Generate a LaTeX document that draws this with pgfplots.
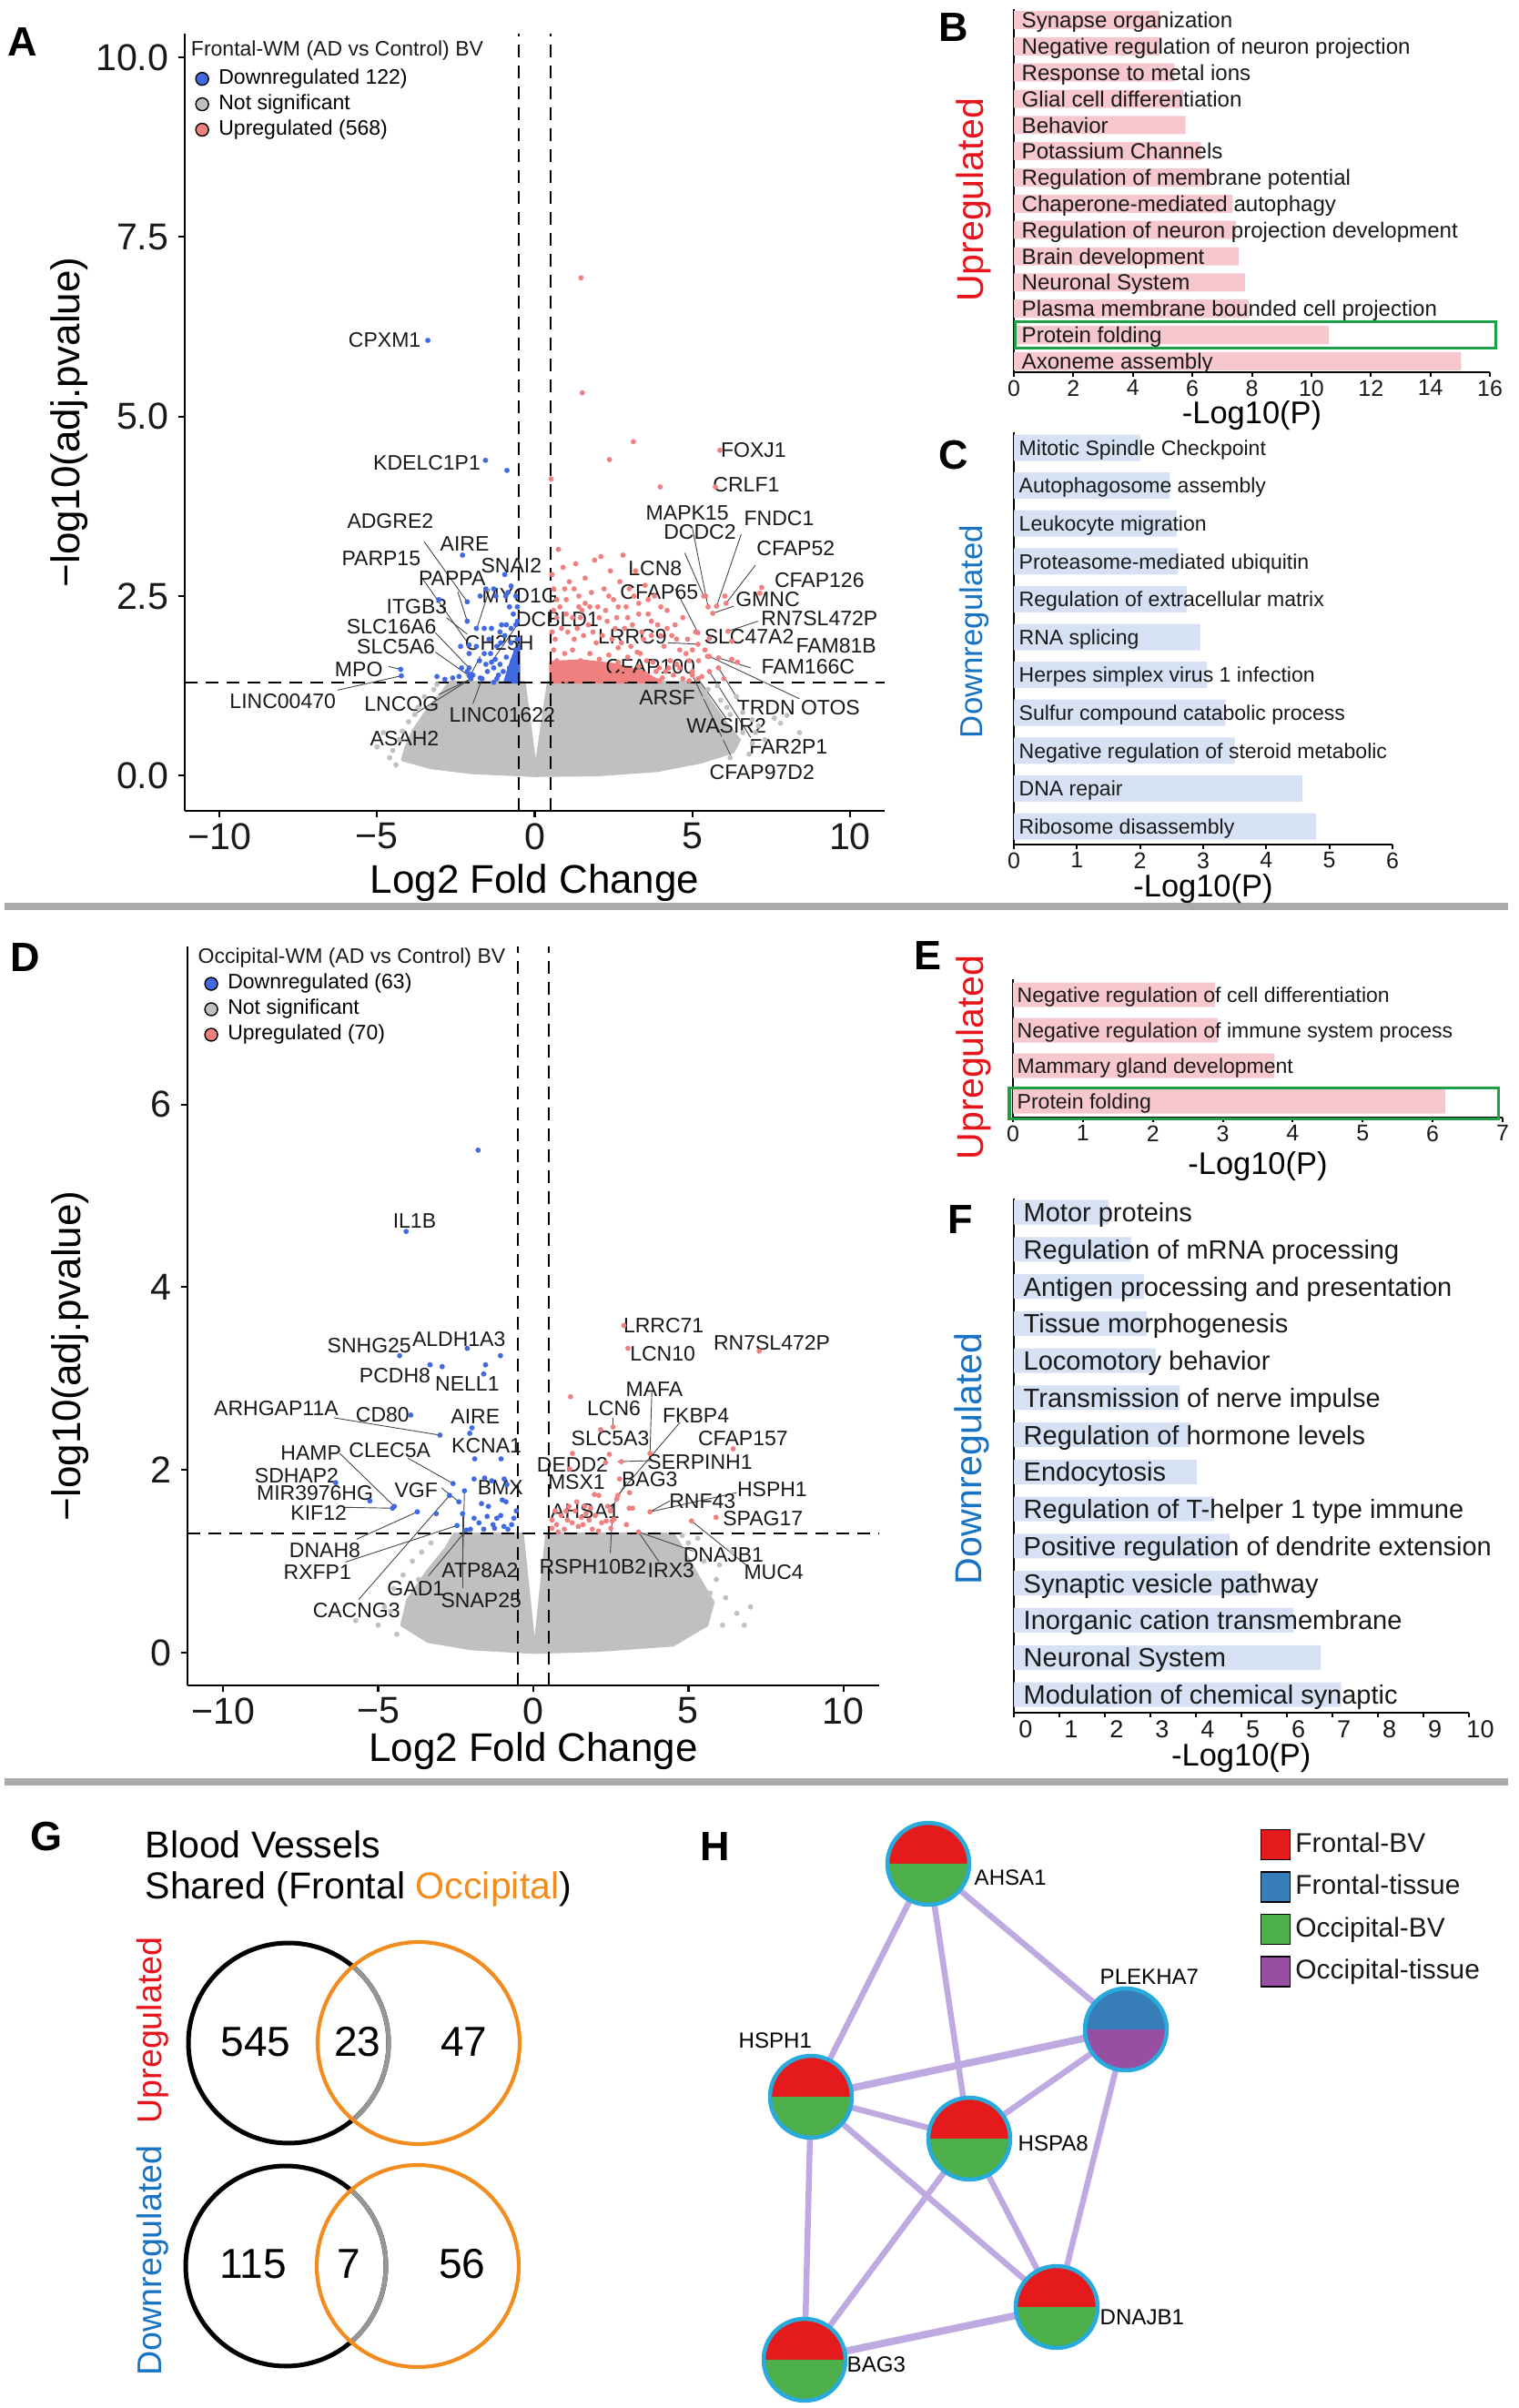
\documentclass[border=0pt]{standalone}
\usepackage{fontspec}
\setmainfont{Liberation Sans}
\usepackage{pgfplots}
\pgfplotsset{compat=1.18}
\usetikzlibrary{plotmarks}

\definecolor{ptblue}{RGB}{65,105,225}
\definecolor{ptred}{RGB}{240,128,128}
\definecolor{ptgrey}{RGB}{192,192,192}
\definecolor{barpink}{RGB}{247,199,206}
\definecolor{barblue}{RGB}{214,225,243}
\definecolor{uptxt}{RGB}{232,20,28}
\definecolor{dntxt}{RGB}{25,115,195}
\definecolor{boxgreen}{RGB}{30,160,70}
\definecolor{sepgrey}{RGB}{170,170,170}
\definecolor{vorange}{RGB}{242,140,30}
\definecolor{vgrey}{RGB}{150,150,150}
\definecolor{nred}{RGB}{228,26,28}
\definecolor{ngreen}{RGB}{77,175,74}
\definecolor{nblue}{RGB}{55,126,184}
\definecolor{npurple}{RGB}{152,78,163}
\definecolor{ncyan}{RGB}{40,170,220}
\definecolor{edgecol}{RGB}{190,170,225}
\definecolor{txtdark}{RGB}{25,25,25}
\definecolor{leadcol}{RGB}{70,70,70}

\newcommand{\fGene}{\fontsize{6.55pt}{7.5pt}\selectfont}
\newcommand{\fLeg}{\fontsize{6.55pt}{7.5pt}\selectfont}
\newcommand{\fTick}{\fontsize{11.7pt}{13pt}\selectfont}
\newcommand{\fTitle}{\fontsize{12.5pt}{14pt}\selectfont}
\newcommand{\fPanel}{\fontsize{12.8pt}{14pt}\selectfont\bfseries}
\newcommand{\fBarB}{\fontsize{6.85pt}{8pt}\selectfont}
\newcommand{\fBarC}{\fontsize{6.55pt}{7.5pt}\selectfont}
\newcommand{\fBarF}{\fontsize{8.25pt}{9.5pt}\selectfont}
\newcommand{\fBarTick}{\fontsize{7.1pt}{8pt}\selectfont}
\newcommand{\fBarTickF}{\fontsize{7.7pt}{8.5pt}\selectfont}
\newcommand{\fBarTitle}{\fontsize{9.8pt}{11pt}\selectfont}
\newcommand{\fSide}{\fontsize{11.7pt}{13pt}\selectfont}
\newcommand{\fSideC}{\fontsize{9.9pt}{11pt}\selectfont}
\newcommand{\fSideG}{\fontsize{10.7pt}{12pt}\selectfont}
\newcommand{\fVenn}{\fontsize{11.7pt}{13pt}\selectfont}
\newcommand{\fVennNum}{\fontsize{13.1pt}{15pt}\selectfont}
\newcommand{\fNet}{\fontsize{6.85pt}{8pt}\selectfont}
\newcommand{\fNetLeg}{\fontsize{8.5pt}{9.5pt}\selectfont}

\pgfdeclareplotmark{rg}{%
  \pgfpathmoveto{\pgfqpoint{\pgfplotmarksize}{0pt}}%
  \pgfpatharc{0}{180}{\pgfplotmarksize}%
  \pgfpathclose
  \pgfsetfillcolor{nred}\pgfusepath{fill}%
  \pgfpathmoveto{\pgfqpoint{-\pgfplotmarksize}{0pt}}%
  \pgfpatharc{180}{360}{\pgfplotmarksize}%
  \pgfpathclose
  \pgfsetfillcolor{ngreen}\pgfusepath{fill}%
  \pgfpathcircle{\pgfpointorigin}{\pgfplotmarksize}%
  \pgfsetstrokecolor{ncyan}\pgfusepath{stroke}%
}
\pgfdeclareplotmark{bp}{%
  \pgfpathmoveto{\pgfqpoint{\pgfplotmarksize}{0pt}}%
  \pgfpatharc{0}{180}{\pgfplotmarksize}%
  \pgfpathclose
  \pgfsetfillcolor{nblue}\pgfusepath{fill}%
  \pgfpathmoveto{\pgfqpoint{-\pgfplotmarksize}{0pt}}%
  \pgfpatharc{180}{360}{\pgfplotmarksize}%
  \pgfpathclose
  \pgfsetfillcolor{npurple}\pgfusepath{fill}%
  \pgfpathcircle{\pgfpointorigin}{\pgfplotmarksize}%
  \pgfsetstrokecolor{ncyan}\pgfusepath{stroke}%
}
\pgfdeclareplotmark{varc}{%
  \pgfpathmoveto{\pgfqpointpolar{-49}{\pgfplotmarksize}}%
  \pgfpatharc{-49}{49}{\pgfplotmarksize}%
  \pgfusepath{stroke}%
}

\pgfplotsset{
  volc/.style={
    scale only axis, clip=false,
    axis x line*=bottom, axis y line*=left,
    axis line style={line width=0.22mm, black},
    tick align=outside, major tick length=0.7mm,
    tick style={line width=0.22mm, black},
    xtick={-10,-5,0,5,10}, xticklabels={−10,−5,0,5,10},
    tick label style={font=\fTick, text=txtdark},
    /pgf/number format/assume math mode=true,
    xticklabel style={inner sep=0pt, yshift=-0.6mm},
    yticklabel style={inner sep=0pt, xshift=-1.0mm},
    legend image code/.code={\fill[##1] (0.7mm,0mm) circle (0.7mm);},
    legend cell align=left,
    legend style={draw=none, fill=none, anchor=north west, inner sep=0pt, outer sep=0pt, row sep=0.6mm,
       nodes={inner sep=0pt, outer sep=0pt, font=\fLeg},
       /tikz/every odd column/.append style={column sep=1.05mm}},
  },
  hb/.style={
    scale only axis, clip=false, xbar, xmin=0,
    axis x line*=bottom, axis y line*=left,
    axis line style={line width=0.28mm, black},
    ytick=\empty, tick align=outside, major tick length=0.5mm,
    tick style={line width=0.2mm, black},
    /pgf/number format/assume math mode=true,
    tick label style={font=\fBarTick, text=txtdark},
    xticklabel style={inner sep=0pt, yshift=-0.3mm},
  },
  vpt/.style={color=#1, only marks, mark=*, mark size=0.28mm, forget plot,
    mark options={draw=#1, fill=#1, line width=0.01mm}},
  vdash/.style={black, line width=0.22mm, dash pattern=on 1.4mm off 0.9mm, forget plot},
}
\tikzset{gl/.style={font=\fGene, inner sep=0pt, text=txtdark},
         ll/.style={draw=leadcol, line width=0.09mm},
         pl/.style={font=\fPanel, inner sep=0pt}}
\newcommand{\gl}[3]{\node[gl] at (axis cs:#1,#2) {#3};}
\newcommand{\ld}[4]{\draw[ll] (axis cs:#1,#2) -- (axis cs:#3,#4);}

\begin{document}
\begin{tikzpicture}
% separators
\fill[sepgrey] (0.5mm,164.6mm) rectangle (165.7mm,165.4mm);
\fill[sepgrey] (0.5mm,68.4mm) rectangle (165.7mm,69.2mm);
% panel letters
\node[pl] at (2.5mm,260.0mm) {A};
\node[pl] at (104.8mm,261.6mm) {B};
\node[pl] at (104.8mm,214.6mm) {C};
\node[pl] at (2.8mm,159.4mm) {D};
\node[pl] at (101.9mm,159.6mm) {E};
\node[pl] at (105.5mm,130.6mm) {F};
\node[pl] at (5.1mm,62.8mm) {G};
\node[pl] at (78.6mm,61.7mm) {H};
% side labels
\node[rotate=90, font=\fSide, text=uptxt, inner sep=0pt] at (107.0mm,242.6mm) {Upregulated};
\node[rotate=90, font=\fSideC, text=dntxt, inner sep=0pt] at (107.0mm,195.2mm) {Downregulated};
\node[rotate=90, font=\fSide, text=uptxt, inner sep=0pt] at (107.0mm,148.4mm) {Upregulated};
\node[rotate=90, font=\fSide, text=dntxt, inner sep=0pt] at (106.8mm,104.3mm) {Downregulated};

%================ A =================
\begin{axis}[volc, at={(20.3mm,175.5mm)}, anchor=south west, width=76.9mm, height=85.4mm,
  xmin=-11.1, xmax=11.1,
  ymin=-0.49, ymax=10.33, ytick={0,2.5,5,7.5,10}, yticklabels={0.0,2.5,5.0,7.5,10.0},
  xlabel={Log2 Fold Change}, ylabel={−log10(adj.pvalue)},
  every axis x label/.style={at={([yshift=-7.9mm]axis description cs:0.5,0)}, anchor=center, font=\fTitle},
  every axis y label/.style={at={([xshift=-12.7mm]axis description cs:0,0.5)}, anchor=center, rotate=90, font=\fTitle},
  legend style={at={(axis cs:-10.77,9.84)}}]
\addplot[fill=ptgrey, draw=ptgrey, line width=0.3mm, line join=round, forget plot] coordinates {
(-2.7,1.301) (-2.95,1.15) (-3.4,0.92) (-3.85,0.63) (-4.1,0.38) (-4.2,0.22) (-3.3,0.11) (-2.0,0.04) (0,0)
(2.0,0.01) (3.9,0.07) (5.3,0.19) (6.3,0.33) (6.5,0.5) (6.0,0.77) (5.6,1.02) (5.2,1.301) (0.43,1.301) (0.03,0.1) (-0.33,1.301)} -- cycle;
\addplot[vpt=ptgrey] coordinates {
(-4.5,0.35) (-4.3,0.5) (-4.0,0.75) (-3.7,0.95) (-3.5,1.1) (-3.2,1.2) (-4.6,0.25) (-4.4,0.15) (-5.0,0.4) (-4.8,0.6)
(-3.1,1.27) (-4.2,0.62) (-3.8,0.85) (5.5,1.2) (5.9,1.05) (6.2,0.85) (6.6,0.6) (6.9,0.45) (7.1,0.69) (7.6,0.8)
(7.8,0.73) (8.0,0.84) (8.4,0.6) (6.6,0.88) (6.9,0.78) (6.0,0.53) (6.8,0.3) (6.4,1.1) (5.8,1.25) (7.3,0.5)
(6.2,0.25) (5.4,1.1) (6.1,0.95) (7.0,0.6) (5.0,1.25)};
\addplot[fill=ptblue, draw=ptblue, line width=0.3mm, line join=round, forget plot] coordinates {
(-0.95,1.301) (-0.5,1.301) (-0.5,1.85) (-0.65,1.7) (-0.85,1.45)} -- cycle;
\addplot[vpt=ptblue] coordinates {
(-3.39,6.06) (-1.56,4.39) (-0.88,4.25) (-2.29,3.07)
(-0.95,2.8) (-0.75,2.64) (-1.3,2.6) (-0.85,2.55) (-0.6,2.5) (-1.55,2.6) (-1.73,2.5) (-1.23,2.5) (-0.92,2.5)
(-2.14,2.42) (-3.04,2.45) (-2.14,2.15)
(-1.85,2.05) (-1.6,2.05) (-1.37,2.05) (-1.1,2.0) (-0.9,2.1) (-0.75,2.05) (-0.6,2.1)
(-2.35,1.8) (-2.08,1.7) (-1.85,1.8) (-1.6,1.7) (-2.32,1.5) (-2.14,1.45) (-1.96,1.4) (-1.73,1.36) (-2.08,1.39)
(-2.02,1.41) (-1.67,1.35) (-2.02,1.35) (-2.4,1.38) (-2.6,1.36) (-2.85,1.34) (-3.1,1.38)
(-1.5,1.45) (-1.4,1.7) (-1.3,1.5) (-1.2,1.8) (-1.15,1.4) (-1.45,1.9) (-1.75,1.6) (-1.55,1.55) (-1.25,1.62)
(-1.37,1.58) (-1.08,1.85) (-0.95,1.95)
(-4.25,1.48) (-4.23,1.39) (-2.08,1.82) (-2.08,1.5)
(-0.55,1.9) (-0.6,1.75) (-0.7,1.6) (-0.65,1.45) (-0.8,1.5) (-0.9,1.65) (-1.0,1.45) (-1.1,1.55) (-0.75,1.85)
(-0.85,1.35) (-1.2,1.35) (-1.3,1.3) (-0.55,2.15) (-0.68,2.25) (-0.8,2.35) (-0.55,2.35) (-1.05,2.1)};
\addplot[fill=ptred, draw=ptred, line width=0.3mm, line join=round, forget plot] coordinates {
(0.5,1.301) (4.0,1.301) (3.4,1.45) (2.5,1.55) (1.5,1.6) (0.5,1.58)} -- cycle;
\addplot[vpt=ptred] coordinates {
(0.6,2.6) (0.75,3.15) (0.9,2.9) (1.0,2.45) (1.1,2.7) (1.2,2.2) (1.3,2.95) (1.4,2.5) (1.5,2.3) (1.6,2.75)
(1.7,2.1) (1.8,2.55) (1.9,3.0) (2.0,2.35) (2.1,3.05) (2.2,2.6) (2.3,2.15) (2.4,2.85) (2.5,2.45) (2.6,2.2)
(2.7,2.7) (2.8,3.07) (2.9,2.35) (3.0,2.6) (3.1,2.1) (3.2,2.85) (3.3,2.4) (3.4,2.0) (3.5,2.65) (3.6,2.25)
(3.7,1.95) (3.8,2.5) (3.9,2.1) (4.0,2.35) (4.1,1.8) (4.2,2.05) (4.3,1.6) (4.5,1.9) (4.6,1.5) (4.7,2.2)
(4.8,1.7) (5.0,1.45) (5.1,2.0) (5.2,1.6)
(0.55,2.0) (0.7,2.2) (0.85,2.05) (1.05,2.0) (1.35,2.05) (1.55,1.95) (1.85,2.0) (2.15,1.95) (2.45,1.9)
(2.75,1.85) (3.05,1.8) (3.35,1.7) (3.55,1.6) (3.95,1.5) (4.4,1.4) (4.7,1.35) (4.9,1.32) (5.3,1.38)
(0.65,1.9) (1.25,1.9) (1.95,1.85) (2.65,1.78) (3.25,1.72) (3.75,1.58) (4.15,1.45) (0.8,2.35) (1.45,2.2)
(2.05,2.2) (2.85,2.05) (3.45,1.9)
(0.55,1.5) (0.6,1.75) (0.7,1.6) (0.8,1.45) (0.95,1.7) (1.1,1.55) (1.2,1.75) (1.3,1.4) (1.45,1.6) (1.6,1.5)
(1.75,1.7) (1.9,1.45) (2.05,1.62) (2.2,1.5) (2.35,1.68) (2.5,1.42) (2.65,1.58) (2.8,1.48) (2.95,1.65) (3.1,1.4)
(3.3,1.52) (3.5,1.42) (3.7,1.35) (3.85,1.45) (4.05,1.36) (4.25,1.5) (4.5,1.55) (4.6,1.75) (4.35,1.95) (4.45,2.1)
(4.0,1.95) (3.7,2.15) (3.3,2.25) (2.95,2.2) (2.55,2.05) (2.25,2.3) (1.75,2.35) (1.4,2.35) (1.0,2.25) (0.6,2.3)
(0.7,2.45) (0.95,2.6) (1.25,2.6) (0.55,2.8) (1.6,2.4) (2.35,2.5) (2.65,2.35) (3.15,2.5) (3.6,2.45) (4.2,2.3)
(4.85,1.9) (5.0,1.75) (0.65,1.35) (1.0,1.32) (2.3,1.35) (2.9,1.33) (3.45,1.33) (3.95,1.32)
(1.47,6.93) (1.51,5.33) (3.13,4.65) (2.37,4.4) (0.52,4.13) (3.98,4.02) (5.87,4.53) (5.73,4.02)
(5.42,2.5) (5.65,2.26) (6.07,2.4) (7.14,2.54) (6.13,2.01) (5.54,1.91) (5.83,1.64) (6.25,1.62) (5.48,1.66)
(5.83,1.5) (5.18,1.99) (5.36,2.5) (5.77,2.36) (5.18,1.83) (5.54,1.66) (5.54,1.45) (5.18,1.35) (5.0,1.4)
(6.25,1.87) (6.43,1.58) (6.0,1.35) (5.4,1.75) (4.9,1.6) (5.5,2.35) (6.03,2.5) (7.2,2.62)};
\addplot[vdash] coordinates {(-0.5,-0.49) (-0.5,10.33)};
\addplot[vdash] coordinates {(0.5,-0.49) (0.5,10.33)};
\addplot[vdash] coordinates {(-11.1,1.301) (11.1,1.301)};
\addlegendimage{fill=ptblue}\addlegendentry{Downregulated 122)}
\addlegendimage{fill=ptgrey}\addlegendentry{Not significant}
\addlegendimage{fill=ptred}\addlegendentry{Upregulated (568)}
\node[anchor=west, font=\fLeg, inner sep=0pt, text=txtdark] at (axis cs:-10.92,10.09) {Frontal-WM (AD vs Control) BV};
% leader lines
\ld{-3.51}{3.26}{-2.14}{2.42}
\ld{-3.57}{2.75}{-2.08}{1.82}
\ld{-2.44}{2.56}{-2.14}{2.15}
\ld{-1.43}{2.6}{-1.85}{2.03}
\ld{-2.8}{2.2}{-2.14}{1.97}
\ld{-3.15}{1.99}{-2.08}{1.5}
\ld{-3.15}{1.72}{-2.08}{1.39}
\ld{-1.73}{1.66}{-2.02}{1.41}
\ld{-0.6}{2.07}{-1.37}{1.58}
\ld{-4.64}{1.52}{-4.25}{1.48}
\ld{-6.25}{1.19}{-4.23}{1.39}
\ld{-3.04}{1.13}{-2.02}{1.35}
\ld{-3.87}{0.84}{-2.02}{1.35}
\ld{-1.96}{1.0}{-1.67}{1.35}
\ld{4.46}{2.6}{5.18}{1.99}
\ld{4.76}{3.1}{5.36}{2.5}
\ld{5.0}{3.45}{5.5}{2.35}
\ld{6.55}{3.36}{5.77}{2.36}
\ld{7.0}{2.93}{6.07}{2.4}
\ld{6.31}{2.36}{5.65}{2.26}
\ld{7.08}{2.15}{6.13}{2.01}
\ld{4.23}{1.85}{5.18}{1.83}
\ld{6.85}{1.5}{5.83}{1.64}
\ld{8.4}{1.07}{5.54}{1.66}
\ld{6.49}{1.03}{5.83}{1.5}
\ld{6.85}{0.53}{5.54}{1.45}
\ld{6.07}{0.8}{5.18}{1.35}
\ld{6.25}{0.25}{5.0}{1.4}
% gene labels
\gl{-4.76}{6.06}{CPXM1}
\gl{-3.42}{4.36}{KDELC1P1}
\gl{-4.58}{3.55}{ADGRE2}
\gl{-2.22}{3.23}{AIRE}
\gl{-4.87}{3.02}{PARP15}
\gl{-0.74}{2.92}{SNAI2}
\gl{-2.62}{2.75}{PAPPA}
\gl{-0.47}{2.5}{MYO1G}
\gl{-3.74}{2.35}{ITGB3}
\gl{0.72}{2.17}{DCBLD1}
\gl{-4.54}{2.07}{SLC16A6}
\gl{-1.12}{1.85}{CH25H}
\gl{-4.4}{1.79}{SLC5A6}
\gl{-5.58}{1.48}{MPO}
\gl{-7.99}{1.03}{LINC00470}
\gl{-4.22}{1.0}{LNCOG}
\gl{-1.03}{0.85}{LINC01622}
\gl{-4.13}{0.51}{ASAH2}
\gl{6.94}{4.53}{FOXJ1}
\gl{6.71}{4.05}{CRLF1}
\gl{4.84}{3.66}{MAPK15}
\gl{7.75}{3.58}{FNDC1}
\gl{5.24}{3.39}{DCDC2}
\gl{8.28}{3.17}{CFAP52}
\gl{3.82}{2.88}{LCN8}
\gl{9.03}{2.72}{CFAP126}
\gl{3.95}{2.56}{CFAP65}
\gl{7.39}{2.46}{GMNC}
\gl{9.03}{2.19}{RN7SL472P}
\gl{3.1}{1.93}{LRRC9}
\gl{6.8}{1.93}{SLC47A2}
\gl{9.56}{1.81}{FAM81B}
\gl{3.67}{1.52}{CFAP100}
\gl{8.67}{1.52}{FAM166C}
\gl{4.2}{1.08}{ARSF}
\gl{7.34}{0.95}{TRDN}
\gl{9.38}{0.95}{OTOS}
\gl{6.08}{0.69}{WASIR2}
\gl{8.05}{0.4}{FAR2P1}
\gl{7.21}{0.05}{CFAP97D2}
\end{axis}

%================ D =================
\begin{axis}[volc, at={(20.6mm,79.4mm)}, anchor=south west, width=76.0mm, height=81.2mm,
  xmin=-11.15, xmax=11.15,
  ymin=-0.36, ymax=7.73, ytick={0,2,4,6}, yticklabels={0,2,4,6},
  xlabel={Log2 Fold Change}, ylabel={−log10(adj.pvalue)},
  every axis x label/.style={at={([yshift=-7.2mm]axis description cs:0.5,0)}, anchor=center, font=\fTitle},
  every axis y label/.style={at={([xshift=-12.9mm]axis description cs:0,0.446)}, anchor=center, rotate=90, font=\fTitle},
  legend style={at={(axis cs:-10.61,7.43)}}]
\addplot[fill=ptgrey, draw=ptgrey, line width=0.3mm, line join=round, forget plot] coordinates {
(-2.55,1.301) (-2.8,1.15) (-3.4,0.9) (-4.05,0.58) (-4.25,0.3) (-3.4,0.12) (-2,0.04) (0,0) (2,0.02)
(4.5,0.08) (5.6,0.3) (5.8,0.55) (5.2,0.9) (4.7,1.2) (4.5,1.301) (0.43,1.301) (0.04,0.03) (-0.35,1.301)} -- cycle;
\addplot[vpt=ptgrey] coordinates {
(-5.73,0.35) (-4.8,0.5) (-4.5,0.7) (-4.2,0.85) (-3.9,1.0) (-3.6,1.1) (-3.3,1.2) (-5.0,0.3) (-4.4,0.2)
(5.0,1.2) (5.5,1.0) (5.9,0.8) (6.56,0.43) (6.2,0.6) (6.0,0.96) (6.8,0.3) (5.3,1.25) (4.8,1.28) (7.0,0.5)
(6.4,1.1) (-4.6,0.45) (-3.7,0.8) (6.1,0.3) (5.7,0.65)};
\addplot[vpt=ptblue] coordinates {
(-1.78,5.5) (-4.1,4.61) (-4.31,3.25) (-3.33,3.15) (-2.94,3.13) (-2.13,3.33) (-1.54,3.15) (-1.06,3.25) (-1.6,3.05)
(-3.95,2.6) (-3.01,2.38) (-1.98,2.46) (-2.05,2.4) (-1.89,2.12) (-1.04,2.12) (-2.59,1.85) (-1.91,1.9) (-1.57,1.91)
(-0.94,1.9) (-1.34,1.88) (-0.85,1.84)
(-6.37,1.86) (-5.27,1.66) (-4.48,1.6) (-4.54,1.58) (-3.74,1.54) (-3.13,1.52) (-2.46,1.39) (-2.22,1.77) (-2.4,1.65)
(-2.16,1.34) (-2.28,1.52) (-2.7,1.72)
(-1.67,1.63) (-1.45,1.6) (-1.0,1.67) (-0.88,1.65) (-1.49,1.49) (-1.18,1.47) (-0.63,1.47) (-1.91,1.47) (-0.82,1.35)
(-1.6,1.35) (-2.03,1.35) (-1.3,1.4) (-1.05,1.5) (-0.7,1.4) (-1.75,1.42) (-0.55,1.55) (-1.25,1.36) (-0.95,1.38)};
\addplot[vpt=ptred] coordinates {
(2.92,3.58) (3.05,3.33) (7.28,3.3) (1.2,2.8) (2.57,2.47) (2.17,2.44) (6.44,2.23) (3.76,2.18) (1.26,2.18) (2.45,2.17)
(2.84,2.09) (2.33,2.08) (1.17,2.01) (2.78,1.9) (2.11,1.72) (1.97,1.73) (2.69,1.68) (3.76,1.54) (5.89,1.48) (5.1,1.44)
(3.09,1.58) (2.48,1.55) (2.72,1.72) (2.35,1.44) (3.39,1.32) (2.54,1.44)
(0.6,1.45) (0.6,1.36) (0.75,1.4) (0.9,1.5) (1.0,1.35) (1.1,1.45) (1.25,1.42) (1.35,1.55) (1.45,1.38) (1.55,1.48)
(1.6,1.4) (1.7,1.52) (1.8,1.45) (1.9,1.35) (2.0,1.5) (2.2,1.42) (2.4,1.6) (2.5,1.36) (2.6,1.46) (3.0,1.4)
(3.2,1.58) (1.4,1.65) (1.15,1.6) (0.8,1.32) (2.1,1.33) (3.1,1.75) (0.7,1.55) (1.65,1.6) (1.85,1.58) (1.05,1.55)};
\addplot[vdash] coordinates {(-0.5,-0.36) (-0.5,7.73)};
\addplot[vdash] coordinates {(0.5,-0.36) (0.5,7.73)};
\addplot[vdash] coordinates {(-11.15,1.301) (11.15,1.301)};
\addlegendimage{fill=ptblue}\addlegendentry{Downregulated (63)}
\addlegendimage{fill=ptgrey}\addlegendentry{Not significant}
\addlegendimage{fill=ptred}\addlegendentry{Upregulated (70)}
\node[anchor=west, font=\fLeg, inner sep=0pt, text=txtdark] at (axis cs:-10.83,7.6) {Occipital-WM (AD vs Control) BV};
\ld{-6.43}{2.57}{-3.01}{2.38}
\ld{-6.24}{2.18}{-4.48}{1.6}
\ld{-4.05}{2.13}{-2.59}{1.85}
\ld{-6.12}{1.59}{-4.54}{1.58}
\ld{-2.95}{1.8}{-2.4}{1.65}
\ld{-5.7}{1.24}{-3.74}{1.54}
\ld{-6.06}{0.99}{-2.46}{1.39}
\ld{-5.63}{0.58}{-2.7}{1.72}
\ld{-3.38}{0.84}{-2.16}{1.34}
\ld{-2.28}{0.97}{-2.22}{1.77}
\ld{-2.28}{0.71}{-2.28}{1.52}
\ld{3.82}{2.85}{3.76}{2.18}
\ld{3.76}{2.1}{2.72}{2.09}
\ld{4.73}{2.52}{2.72}{1.72}
\ld{3.0}{1.87}{2.48}{1.55}
\ld{4.4}{1.66}{3.76}{1.54}
\ld{6.55}{1.75}{3.76}{1.54}
\ld{5.16}{1.11}{3.39}{1.32}
\ld{6.93}{0.94}{5.1}{1.44}
\ld{4.06}{0.99}{3.39}{1.32}
\ld{2.48}{1.09}{2.54}{1.44}
\ld{1.93}{1.75}{2.11}{1.72}
\ld{2.57}{2.57}{2.57}{2.47}
\gl{-3.83}{4.73}{IL1B}
\gl{-5.29}{3.36}{SNHG25}
\gl{-2.4}{3.43}{ALDH1A3}
\gl{-4.46}{3.03}{PCDH8}
\gl{-2.13}{2.94}{NELL1}
\gl{-8.29}{2.67}{ARHGAP11A}
\gl{-4.86}{2.6}{CD80}
\gl{-1.87}{2.58}{AIRE}
\gl{-1.51}{2.26}{KCNA1}
\gl{-7.17}{2.18}{HAMP}
\gl{-4.63}{2.21}{CLEC5A}
\gl{-7.63}{1.94}{SDHAP2}
\gl{1.26}{2.06}{DEDD2}
\gl{-1.06}{1.81}{BMX}
\gl{-3.78}{1.78}{VGF}
\gl{-7.04}{1.75}{MIR3976HG}
\gl{-6.92}{1.53}{KIF12}
\gl{-6.72}{1.12}{DNAH8}
\gl{-6.96}{0.88}{RXFP1}
\gl{-1.72}{0.9}{ATP8A2}
\gl{-3.79}{0.7}{GAD1}
\gl{-1.68}{0.57}{SNAP25}
\gl{-5.7}{0.46}{CACNG3}
\gl{4.2}{3.58}{LRRC71}
\gl{4.17}{3.27}{LCN10}
\gl{7.69}{3.39}{RN7SL472P}
\gl{3.9}{2.88}{MAFA}
\gl{2.6}{2.67}{LCN6}
\gl{5.24}{2.59}{FKBP4}
\gl{6.76}{2.34}{CFAP157}
\gl{2.48}{2.34}{SLC5A3}
\gl{5.37}{2.09}{SERPINH1}
\gl{1.39}{1.87}{MSX1}
\gl{3.75}{1.9}{BAG3}
\gl{5.45}{1.66}{RNF43}
\gl{7.7}{1.79}{HSPH1}
\gl{1.67}{1.55}{AHSA1}
\gl{7.4}{1.47}{SPAG17}
\gl{6.13}{1.07}{DNAJB1}
\gl{7.75}{0.88}{MUC4}
\gl{1.92}{0.94}{RSPH10B2}
\gl{4.44}{0.9}{IRX3}
\end{axis}

%================ B =================
\begin{axis}[hb, at={(111.4mm,223.7mm)}, anchor=south west, width=52.3mm, height=39.9mm,
  xmax=16, ymin=-0.42, ymax=13.42, xtick={0,2,...,16}, bar width=2.0mm,
  xlabel={-Log10(P)},
  every axis x label/.style={at={([yshift=-4.8mm]axis description cs:0.5,0)}, anchor=center, font=\fBarTitle},
  /tikz/bl/.style={anchor=base west, inner sep=0pt, font=\fBarB, text=txtdark, xshift=0.8mm, yshift=-0.86mm}]
\addplot[fill=barpink, draw=none] coordinates {
(15.03,0) (10.59,1) (7.90,2) (7.77,3) (7.56,4) (7.46,5) (7.35,6) (6.57,7) (6.29,8) (5.77,9) (5.69,10) (5.40,11) (4.89,12) (4.89,13)};
\node[bl] at (axis cs:0,13) {Synapse organization};
\node[bl] at (axis cs:0,12) {Negative regulation of neuron projection};
\node[bl] at (axis cs:0,11) {Response to metal ions};
\node[bl] at (axis cs:0,10) {Glial cell differentiation};
\node[bl] at (axis cs:0,9) {Behavior};
\node[bl] at (axis cs:0,8) {Potassium Channels};
\node[bl] at (axis cs:0,7) {Regulation of membrane potential};
\node[bl] at (axis cs:0,6) {Chaperone-mediated autophagy};
\node[bl] at (axis cs:0,5) {Regulation of neuron projection development};
\node[bl] at (axis cs:0,4) {Brain development};
\node[bl] at (axis cs:0,3) {Neuronal System};
\node[bl] at (axis cs:0,2) {Plasma membrane bounded cell projection};
\node[bl] at (axis cs:0,1) {Protein folding};
\node[bl] at (axis cs:0,0) {Axoneme assembly};
\draw[boxgreen, line width=0.35mm] (axis cs:0.05,0.5) rectangle (axis cs:16.2,1.5);
\end{axis}

%================ C =================
\begin{axis}[hb, at={(111.4mm,171.8mm)}, anchor=south west, width=41.6mm, height=45.3mm,
  xmax=6, ymin=-0.48, ymax=10.41, xtick={0,1,...,6}, bar width=2.9mm,
  xlabel={-Log10(P)},
  every axis x label/.style={at={([yshift=-4.9mm]axis description cs:0.5,0)}, anchor=center, font=\fBarTitle},
  /tikz/bl/.style={anchor=base west, inner sep=0pt, font=\fBarC, text=txtdark, xshift=0.5mm, yshift=-0.83mm}]
\addplot[fill=barblue, draw=none] coordinates {
(4.79,0) (4.57,1) (3.50,2) (3.35,3) (3.06,4) (2.95,5) (2.74,6) (2.60,7) (2.58,8) (2.47,9) (2.00,10)};
\node[bl] at (axis cs:0,10) {Mitotic Spindle Checkpoint};
\node[bl] at (axis cs:0,9) {Autophagosome assembly};
\node[bl] at (axis cs:0,8) {Leukocyte migration};
\node[bl] at (axis cs:0,7) {Proteasome-mediated ubiquitin};
\node[bl] at (axis cs:0,6) {Regulation of extracellular matrix};
\node[bl] at (axis cs:0,5) {RNA splicing};
\node[bl] at (axis cs:0,4) {Herpes simplex virus 1 infection};
\node[bl] at (axis cs:0,3) {Sulfur compound catabolic process};
\node[bl] at (axis cs:0,2) {Negative regulation of steroid metabolic};
\node[bl] at (axis cs:0,1) {DNA repair};
\node[bl] at (axis cs:0,0) {Ribosome disassembly};
\end{axis}

%================ E =================
\begin{axis}[hb, at={(111.3mm,141.8mm)}, anchor=south west, width=53.8mm, height=15.2mm,
  xmax=7, ymin=-0.46, ymax=3.44, xtick={0,1,...,7}, bar width=2.7mm,
  xlabel={-Log10(P)},
  every axis x label/.style={at={([yshift=-5.4mm]axis description cs:0.5,0)}, anchor=center, font=\fBarTitle},
  /tikz/bl/.style={anchor=base west, inner sep=0pt, font=\fBarC, text=txtdark, xshift=0.4mm, yshift=-0.83mm}]
\addplot[fill=barpink, draw=none] coordinates {(6.18,0) (3.74,1) (2.93,2) (2.89,3)};
\node[bl] at (axis cs:0,3) {Negative regulation of cell differentiation};
\node[bl] at (axis cs:0,2) {Negative regulation of immune system process};
\node[bl] at (axis cs:0,1) {Mammary gland development};
\node[bl] at (axis cs:0,0) {Protein folding};
\draw[boxgreen, line width=0.35mm] (axis cs:-0.05,-0.5) rectangle (axis cs:6.94,0.37);
\end{axis}

%================ F =================
\begin{axis}[hb, at={(111.4mm,76.4mm)}, anchor=south west, width=49.95mm, height=56.5mm,
  xmax=10, ymin=-0.49, ymax=13.37, xtick={0,1,...,10}, bar width=2.7mm,
  tick label style={font=\fBarTickF}, xticklabel style={xshift=1.3mm},
  xlabel={-Log10(P)},
  every axis x label/.style={at={([yshift=-5.0mm]axis description cs:0.5,0)}, anchor=center, font=\fBarTitle},
  /tikz/bl/.style={anchor=base west, inner sep=0pt, font=\fBarF, text=txtdark, xshift=1.0mm, yshift=-1.04mm}]
\addplot[fill=barblue, draw=none] coordinates {
(7.20,0) (6.75,1) (6.15,2) (5.38,3) (4.74,4) (4.40,5) (4.02,6) (3.88,7) (3.65,8) (3.12,9) (2.92,10) (2.86,11) (2.58,12) (2.09,13)};
\node[bl] at (axis cs:0,13) {Motor proteins};
\node[bl] at (axis cs:0,12) {Regulation of mRNA processing};
\node[bl] at (axis cs:0,11) {Antigen processing and presentation};
\node[bl] at (axis cs:0,10) {Tissue morphogenesis};
\node[bl] at (axis cs:0,9) {Locomotory behavior};
\node[bl] at (axis cs:0,8) {Transmission of nerve impulse};
\node[bl] at (axis cs:0,7) {Regulation of hormone levels};
\node[bl] at (axis cs:0,6) {Endocytosis};
\node[bl] at (axis cs:0,5) {Regulation of T-helper 1 type immune};
\node[bl] at (axis cs:0,4) {Positive regulation of dendrite extension};
\node[bl] at (axis cs:0,3) {Synaptic vesicle pathway};
\node[bl] at (axis cs:0,2) {Inorganic cation transmembrane};
\node[bl] at (axis cs:0,1) {Neuronal System};
\node[bl] at (axis cs:0,0) {Modulation of chemical synaptic};
\end{axis}

%================ G & H =================
\begin{axis}[hide axis, scale only axis, clip=false, at={(0mm,0mm)}, anchor=south west,
  width=166.9mm, height=68.1mm, xmin=0, xmax=1669, ymin=1965, ymax=2646, y dir=reverse,
  legend image code/.code={\fill[#1] (0mm,-1.65mm) rectangle (3.2mm,1.65mm);},
  legend cell align=left,
  legend style={draw=none, fill=none, at={(axis cs:1385,2010)}, anchor=north west, inner sep=0pt, outer sep=0pt,
    row sep=1.2mm, nodes={inner sep=0pt, outer sep=0pt, font=\fNetLeg, text=txtdark},
    /tikz/every odd column/.append style={column sep=0.5mm}}]
% Venn
\addplot[only marks, mark=o, mark size=11mm, mark options={line width=0.5mm, draw=black}, forget plot]
  coordinates {(317,2245) (314,2490)};
\addplot[only marks, mark=varc, mark size=11mm, mark options={line width=0.5mm, draw=vgrey}, forget plot]
  coordinates {(317,2245) (314,2490)};
\addplot[only marks, mark=o, mark size=11.1mm, mark options={line width=0.42mm, draw=vorange}, forget plot]
  coordinates {(460,2245) (459,2490)};
\node[anchor=west, font=\fVenn, inner sep=0pt] at (axis cs:159,2027) {Blood Vessels};
\node[anchor=west, font=\fVenn, inner sep=0pt] at (axis cs:159,2076) {Shared (Frontal \textcolor{vorange}{Occipital})};
\node[font=\fVennNum, inner sep=0pt] at (axis cs:281,2244) {545};
\node[font=\fVennNum, inner sep=0pt] at (axis cs:393,2244) {23};
\node[font=\fVennNum, inner sep=0pt] at (axis cs:510,2244) {47};
\node[font=\fVennNum, inner sep=0pt] at (axis cs:278,2488) {115};
\node[font=\fVennNum, inner sep=0pt] at (axis cs:383,2488) {7};
\node[font=\fVennNum, inner sep=0pt] at (axis cs:508,2488) {56};
\node[rotate=90, font=\fSideG, text=uptxt, inner sep=0pt] at (axis cs:168,2231) {Upregulated};
\node[rotate=90, font=\fSideG, text=dntxt, inner sep=0pt] at (axis cs:168,2484) {Downregulated};
% network edges
\addplot[edgecol, line width=0.65mm, forget plot] coordinates {(1020,2048) (891,2304)};
\addplot[edgecol, line width=0.65mm, forget plot] coordinates {(1020,2048) (1065,2350)};
\addplot[edgecol, line width=0.65mm, forget plot] coordinates {(1020,2048) (1237,2230)};
\addplot[edgecol, line width=0.8mm, forget plot] coordinates {(891,2304) (1237,2230)};
\addplot[edgecol, line width=0.65mm, forget plot] coordinates {(891,2304) (1065,2350)};
\addplot[edgecol, line width=0.65mm, forget plot] coordinates {(891,2304) (1161,2535)};
\addplot[edgecol, line width=0.65mm, forget plot] coordinates {(891,2304) (884,2593)};
\addplot[edgecol, line width=0.65mm, forget plot] coordinates {(1065,2350) (1237,2230)};
\addplot[edgecol, line width=0.65mm, forget plot] coordinates {(1065,2350) (884,2593)};
\addplot[edgecol, line width=0.65mm, forget plot] coordinates {(1065,2350) (1161,2535)};
\addplot[edgecol, line width=0.65mm, forget plot] coordinates {(1237,2230) (1161,2535)};
\addplot[edgecol, line width=0.8mm, forget plot] coordinates {(884,2593) (1161,2535)};
% network nodes
\addplot[only marks, mark=rg, mark size=4.5mm, mark options={line width=0.45mm}, forget plot]
  coordinates {(1020,2048) (891,2304) (1065,2350) (1161,2535) (884,2593)};
\addplot[only marks, mark=bp, mark size=4.5mm, mark options={line width=0.45mm}, forget plot]
  coordinates {(1237,2230)};
\node[anchor=west, font=\fNet, inner sep=0pt] at (axis cs:1070,2063) {AHSA1};
\node[anchor=west, font=\fNet, inner sep=0pt] at (axis cs:1208,2172) {PLEKHA7};
\node[anchor=west, font=\fNet, inner sep=0pt] at (axis cs:811,2242) {HSPH1};
\node[anchor=west, font=\fNet, inner sep=0pt] at (axis cs:1118,2355) {HSPA8};
\node[anchor=west, font=\fNet, inner sep=0pt] at (axis cs:1208,2546) {DNAJB1};
\node[anchor=west, font=\fNet, inner sep=0pt] at (axis cs:930,2598) {BAG3};
\addlegendimage{fill=nred}\addlegendentry{Frontal-BV}
\addlegendimage{fill=nblue}\addlegendentry{Frontal-tissue}
\addlegendimage{fill=ngreen}\addlegendentry{Occipital-BV}
\addlegendimage{fill=npurple}\addlegendentry{Occipital-tissue}
\end{axis}

\pgfresetboundingbox
\path[use as bounding box] (0,0) rectangle (166.9mm,264.6mm);
\end{tikzpicture}
\end{document}
